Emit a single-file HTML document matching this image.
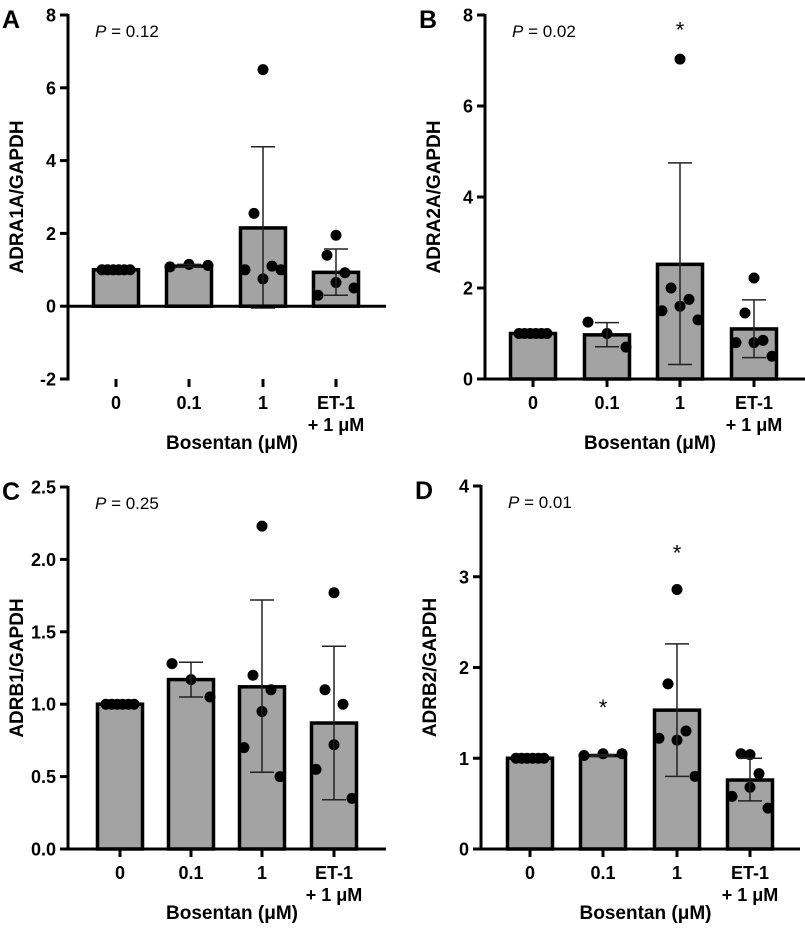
<!DOCTYPE html>
<html><head><meta charset="utf-8"><style>
html,body{margin:0;padding:0;background:#fff}
svg{display:block;font-family:"Liberation Sans",Arial,sans-serif}
</style></head><body>
<svg id="fig" width="805" height="928" viewBox="0 0 805 928" xmlns="http://www.w3.org/2000/svg"></svg>
<script>
const categories = ["0","0.1","1","ET-1"];
// Panel A
const meansA = [1, 1.1, 2.15, 0.93];
const sdHiA = [1, 1.15, 4.38, 1.57];
const sdLoA = [1, 1.08, -0.05, 0.3];
const ptsA = [[1,1,1,1,1,1],[1.08,1.15,1.12],[6.5,2.55,1.1,0.75,1.0,1.0],[1.95,1.4,0.92,0.65,0.3,0.5]];
const ticksA = [-2,0,2,4,6,8];
// Panel B
const meansB = [1, 0.97, 2.52, 1.1];
const sdHiB = [1, 1.24, 4.75, 1.74];
const sdLoB = [1, 0.71, 0.32, 0.47];
const ptsB = [[1,1,1,1,1,1],[1.25,1.0,0.7],[7.03,2.0,1.75,1.6,1.5,1.3],[2.22,1.45,0.85,0.8,0.8,0.5]];
const ticksB = [0,2,4,6,8];
// Panel C
const meansC = [1, 1.17, 1.12, 0.87];
const sdHiC = [1, 1.29, 1.72, 1.4];
const sdLoC = [1, 1.05, 0.53, 0.34];
const ptsC = [[1,1,1,1,1,1],[1.28,1.17,1.05],[2.23,1.2,1.1,0.95,0.7,0.5],[1.77,1.1,1.0,0.72,0.55,0.35]];
const ticksC = [0,0.5,1,1.5,2,2.5];
// Panel D
const meansD = [1, 1.03, 1.53, 0.76];
const sdHiD = [1, 1.04, 2.26, 1.0];
const sdLoD = [1, 1.02, 0.8, 0.53];
const ptsD = [[1,1,1,1,1,1],[1.03,1.05,1.05],[2.86,1.82,1.3,1.2,1.22,0.8],[1.04,1.05,0.83,0.68,0.58,0.45]];
const ticksD = [0,1,2,3,4];

const NS="http://www.w3.org/2000/svg";
const svg=document.getElementById('fig');
function mk(tag,attrs,parent,text){const e=document.createElementNS(NS,tag);for(const k in attrs)e.setAttribute(k,attrs[k]);if(text!==undefined)e.textContent=text;(parent||svg).appendChild(e);return e;}

const jit={6:[-14,-8.4,-2.8,2.8,8.4,14],3:[-19,0,19]};
const jitScatter={6:[0,-9,9,0,-18,18]};

function panel(o){
  const g=mk('g',{});
  
  
  const y=v=>o.y0+(v-o.ymin)/(o.ymax-o.ymin)*(o.y1-o.y0);
  const x=i=>o.cx[i];
  const L=mk('text',{x:o.ax-66,y:o.y1+13,'font-size':25,'font-weight':'bold'},g,o.letter);
  
  const P=mk('text',{x:o.ax+27,y:o.y1+22,'font-size':17},g);
  
  mk('tspan',{'font-style':'italic'},P,'P');mk('tspan',{},P,' = '+o.p);
  o.means.forEach((m,i)=>{
    const top=Math.min(y(m),y(0)),h=Math.abs(y(m)-y(0));
    const b=mk('rect',{x:x(i)-22.5,y:top,width:45,height:h,fill:'#a3a3a3',stroke:'#000','stroke-width':3.5},g);
    
  });
  o.pts.forEach((arr,i)=>{
    arr.forEach((v,j)=>{
      let dx;
      if(i===0) dx=jit[6][j]; else if(arr.length===3) dx=jit[3][j]; else dx=jitScatter[6][j];
      const c=mk('circle',{cx:x(i)+dx,cy:y(v),r:5.5,fill:'#000'},g);
      
    });
  });
  o.means.forEach((m,i)=>{
    if(o.hi[i]===o.lo[i])return;
    const e=mk('g',{stroke:'#222','stroke-width':1.5},g);
    
    mk('line',{x1:x(i),x2:x(i),y1:y(o.hi[i]),y2:y(o.lo[i])},e);
    mk('line',{x1:x(i)-12,x2:x(i)+12,y1:y(o.hi[i]),y2:y(o.hi[i])},e);
    mk('line',{x1:x(i)-12,x2:x(i)+12,y1:y(o.lo[i]),y2:y(o.lo[i])},e);
  });
  (o.stars||[]).forEach(s=>{
    const t=mk('text',{x:x(s[0]),y:y(s[1])+11,'font-size':22,'text-anchor':'middle'},g,'*');
    
  });
  const ya=mk('line',{x1:o.ax,x2:o.ax,y1:y(o.ymax)-1,y2:y(o.ymin)+1.5,stroke:'#000','stroke-width':3},g);
  
  const xa=mk('line',{x1:o.ax-1.5,x2:o.xr,y1:y(0),y2:y(0),stroke:'#000','stroke-width':3},g);
  
  o.ticks.forEach(t=>{
    mk('line',{x1:o.ax-8,x2:o.ax,y1:y(t),y2:y(t),stroke:'#000','stroke-width':3},g);
    const tl=mk('text',{x:o.ax-12,y:y(t)+6.5,'font-size':18,'font-weight':'bold','text-anchor':'end'},g,o.fmt(t));
    
  });
  const bl=y(o.ymin);
  categories.forEach((c,i)=>{
    mk('line',{x1:x(i),x2:x(i),y1:bl,y2:bl+8,stroke:'#000','stroke-width':3},g);
    const tl=mk('text',{x:x(i),y:bl+30,'font-size':18,'font-weight':'bold','text-anchor':'middle'},g,c);
    
  });
  mk('text',{x:x(3),y:bl+52,'font-size':18,'font-weight':'bold','text-anchor':'middle'},g,'+ 1 μM');
  const xt=mk('text',{x:(o.ax+o.xr)/2+5,y:bl+70,'font-size':19,'font-weight':'bold','text-anchor':'middle'},g,'Bosentan (μM)');
  
  const cy=(o.y0+o.y1)/2;
  const yt=mk('text',{x:0,y:0,'font-size':19,'font-weight':'bold','text-anchor':'middle',transform:`translate(${o.ax-45},${cy}) rotate(-90)`},g,o.ylab);
  
}
const f0=t=>String(t), f1=t=>t.toFixed(1);
panel({letter:'A',p:'0.12',ylab:'ADRA1A/GAPDH',ax:68,xr:386,cx:[116,189,263,336],y0:379,y1:15,ymin:-2,ymax:8,ticks:ticksA,fmt:f0,means:meansA,hi:sdHiA,lo:sdLoA,pts:ptsA});
panel({letter:'B',p:'0.02',ylab:'ADRA2A/GAPDH',ax:485,xr:805,cx:[533,607,680,754],y0:379,y1:15,ymin:0,ymax:8,ticks:ticksB,fmt:f0,means:meansB,hi:sdHiB,lo:sdLoB,pts:ptsB,stars:[[2,7.75]]});
panel({letter:'C',p:'0.25',ylab:'ADRB1/GAPDH',ax:68,xr:386,cx:[120,191,262,334],y0:849,y1:487,ymin:0,ymax:2.5,ticks:ticksC,fmt:f1,means:meansC,hi:sdHiC,lo:sdLoC,pts:ptsC});
panel({letter:'D',p:'0.01',ylab:'ADRB2/GAPDH',ax:481,xr:800,cx:[530,603,677,750],y0:849,y1:486,ymin:0,ymax:4,ticks:ticksD,fmt:f0,means:meansD,hi:sdHiD,lo:sdLoD,pts:ptsD,stars:[[1,1.6],[2,3.3]]});
</script>
</body></html>
